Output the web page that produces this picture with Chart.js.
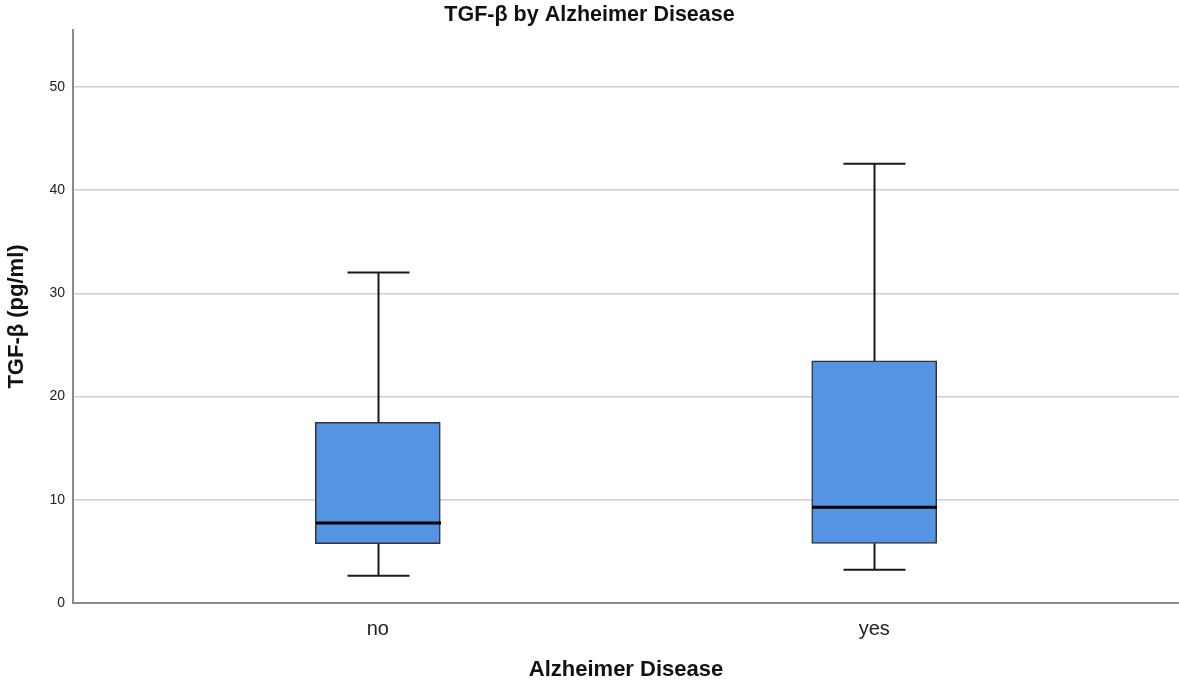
<!DOCTYPE html>
<html>
<head>
<meta charset="utf-8">
<title>TGF-β by Alzheimer Disease</title>
<script src="https://cdn.jsdelivr.net/npm/chart.js@4.4.1/dist/chart.umd.min.js"></script>
<style>
    html, body { margin: 0; padding: 0; background: #ffffff; }
    #wrap { width: 1179px; height: 686px; }
</style>
</head>
<body>
<div id="wrap"><canvas id="boxChart" width="1179" height="686"></canvas></div>
<script>
// Chart data
const groups = ['no', 'yes'];
const whiskerLow = [2.65, 3.23];
const quartile1 = [5.75, 5.78];
const medians = [7.75, 9.27];
const quartile3 = [17.51, 23.45];
const whiskerHigh = [32.0, 42.54];
const yTicks = [0, 10, 20, 30, 40, 50];

const BOX_WIDTH = 125;
const CAP_WIDTH = 62;
const FONT = 'Liberation Sans, Arial, sans-serif';

// Draws whiskers, caps and median lines on top of the boxes
const whiskerPlugin = {
    id: 'whiskers',
    afterDatasetsDraw(chart) {
        const ctx = chart.ctx;
        const x = chart.scales.x;
        const y = chart.scales.y;

        ctx.save();
        groups.forEach((g, i) => {
            const cx = Math.round(x.getPixelForValue(i)) + 0.5;

            // whisker stems
            ctx.strokeStyle = '#1a1a1a';
            ctx.lineWidth = 2;
            ctx.beginPath();
            ctx.moveTo(cx, y.getPixelForValue(quartile3[i]));
            ctx.lineTo(cx, y.getPixelForValue(whiskerHigh[i]));
            ctx.moveTo(cx, y.getPixelForValue(quartile1[i]));
            ctx.lineTo(cx, y.getPixelForValue(whiskerLow[i]));
            ctx.stroke();

            // caps
            ctx.beginPath();
            [whiskerHigh[i], whiskerLow[i]].forEach(v => {
                const py = y.getPixelForValue(v);
                ctx.moveTo(cx - CAP_WIDTH / 2, py);
                ctx.lineTo(cx + CAP_WIDTH / 2, py);
            });
            ctx.stroke();

            // median
            ctx.strokeStyle = '#000000';
            ctx.lineWidth = 3;
            ctx.beginPath();
            const my = y.getPixelForValue(medians[i]);
            ctx.moveTo(cx - BOX_WIDTH / 2, my);
            ctx.lineTo(cx + BOX_WIDTH / 2, my);
            ctx.stroke();
        });
        ctx.restore();
    }
};

const ctx = document.getElementById('boxChart').getContext('2d');

new Chart(ctx, {
    type: 'bar',
    data: {
        datasets: [{
            label: 'TGF-β',
            data: groups.map((g, i) => ({ x: i, y: [quartile1[i], quartile3[i]] })),
            backgroundColor: '#5494e3',
            borderColor: '#333333',
            borderWidth: 1.5,
            borderSkipped: false,
            barThickness: BOX_WIDTH
        }]
    },
    options: {
        responsive: false,
        animation: false,
        layout: { padding: 0 },
        plugins: {
            legend: { display: false },
            tooltip: { enabled: false },
            title: {
                display: true,
                text: 'TGF-β by Alzheimer Disease',
                color: '#111111',
                font: { family: FONT, size: 21.5, weight: 'bold', lineHeight: 1.2 },
                padding: { top: 2.5, bottom: 1.7 }
            }
        },
        scales: {
            x: {
                type: 'linear',
                offset: false,
                min: -0.614,
                max: 1.614,
                afterBuildTicks: scale => {
                    scale.ticks = groups.map((g, i) => ({ value: i }));
                },
                afterFit: scale => { scale.height = 83; },
                ticks: {
                    callback: value => groups[value],
                    color: '#222222',
                    padding: 14,
                    font: { family: FONT, size: 20 }
                },
                grid: { display: false, drawTicks: false },
                border: { display: true, color: '#8a8a8a', width: 2 },
                title: {
                    display: true,
                    text: 'Alzheimer Disease',
                    color: '#111111',
                    font: { family: FONT, size: 22, weight: 'bold', lineHeight: 1.2 },
                    padding: { top: 0, bottom: 3 }
                }
            },
            y: {
                min: 0,
                max: 55.5,
                afterBuildTicks: scale => {
                    scale.ticks = yTicks.map(v => ({ value: v }));
                },
                afterFit: scale => { scale.width = 73; },
                ticks: {
                    color: '#222222',
                    padding: 8,
                    font: { family: FONT, size: 14 }
                },
                grid: {
                    color: ctx => ctx.tick && ctx.tick.value === 0 ? 'rgba(0,0,0,0)' : '#cfcfcf',
                    lineWidth: 1.5,
                    drawTicks: false
                },
                border: { display: true, color: '#8a8a8a', width: 2 },
                title: {
                    display: true,
                    text: 'TGF-β (pg/ml)',
                    color: '#111111',
                    font: { family: FONT, size: 22, weight: 'bold', lineHeight: 1.2 },
                    padding: { top: 4, bottom: 0 }
                }
            }
        }
    },
    plugins: [whiskerPlugin]
});
</script>
</body>
</html>
